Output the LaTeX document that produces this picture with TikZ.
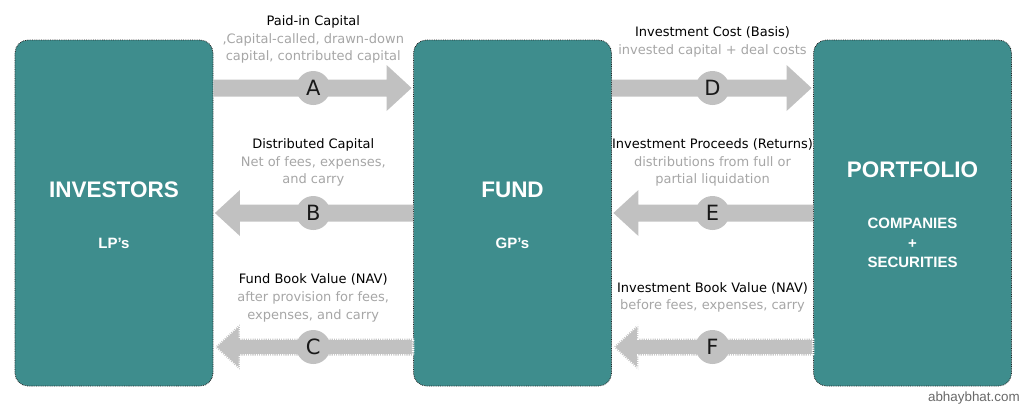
\documentclass[tikz,border=0pt]{standalone}
\usepackage{fontspec}
\setmainfont{DejaVu Sans}
\newfontfamily\boxfont{Liberation Sans}
\usetikzlibrary{calc}
\definecolor{fundteal}{RGB}{62,141,141}
\definecolor{bandgray}{RGB}{193,193,193}
\definecolor{notegray}{RGB}{166,166,166}
\definecolor{webgray}{RGB}{105,105,105}
\tikzset{
  party/.style    = {draw=black!85, densely dotted, line width=0.8bp, fill=fundteal,
                     rounded corners=13bp, minimum width=198bp, minimum height=346bp, inner sep=0pt},
  bigname/.style  = {text=white, inner sep=0pt, font=\boxfont\bfseries\fontsize{22.5bp}{27bp}\selectfont},
  subname/.style  = {text=white, align=center, inner sep=0pt,
                     font=\boxfont\bfseries\fontsize{15bp}{19.5bp}\selectfont},
  band/.style     = {fill=bandgray},
  roughband/.style= {fill=bandgray, draw=white, line width=2.6bp, dash pattern=on 1.1bp off 1.1bp},
  stamp/.style    = {circle, fill=bandgray, minimum size=34bp, inner sep=0pt, text=black!90,
                     font=\fontsize{21bp}{21bp}\selectfont},
  flowtext/.style = {align=center, text=notegray, inner sep=0pt,
                     font=\fontsize{13bp}{17.8bp}\selectfont},
  credit/.style   = {text=webgray, inner sep=0pt, font=\boxfont\fontsize{13.4bp}{16bp}\selectfont},
}
% block arrow from tail (#2) to tip (#3), drawn level with the tail
\newcommand{\bandarrow}[3][band]{%
  \path[#1] let \p1=(#2), \p2=(#3), \n1={sign(\x2-\x1)} in
    ({\x1},{\y1+8.5bp}) -- ({\x2-(\n1)*26.5bp},{\y1+8.5bp}) -- ({\x2-(\n1)*26.5bp},{\y1+23bp})
    -- ({\x2-(\n1)*1.5bp},{\y1}) -- ({\x2-(\n1)*26.5bp},{\y1-23bp}) -- ({\x2-(\n1)*26.5bp},{\y1-8.5bp})
    -- ({\x1},{\y1-8.5bp}) -- cycle;
}

\begin{document}
\begin{tikzpicture}[x=1bp, y=-1bp]
\useasboundingbox (0,0) rectangle (1024,418);

% the three parties
\node[party] (inv)  at (114,213)   {};
\node[party] (fund) at (512.5,213) {};
\node[party] (port) at (912.5,213) {};

\node[bigname] (invT)  at ([yshift=23bp]inv.center)  {INVESTORS};
\node[subname] (invS)  at ([yshift=-30bp]inv.center) {LP’s};
\node[bigname] (fundT) at ([yshift=23bp]fund.center) {FUND};
\node[subname] (fundS) at ([yshift=-30bp]fund.center) {GP’s};
\node[bigname] (portT) at ([yshift=43bp]port.center) {PORTFOLIO};
\node[subname] (portS) at ([yshift=-30bp]port.center) {COMPANIES\\+\\SECURITIES};

% rows of the flows
\coordinate (rowA) at (0,88);
\coordinate (rowB) at (0,213);
\coordinate (rowC) at (0,347);

\bandarrow{inv.east |- rowA}{fund.west |- rowA}
\bandarrow{fund.west |- rowB}{inv.east |- rowB}
\bandarrow[roughband]{fund.west |- rowC}{inv.east |- rowC}
\bandarrow{fund.east |- rowA}{port.west |- rowA}
\bandarrow{port.west |- rowB}{fund.east |- rowB}
\bandarrow[roughband]{port.west |- rowC}{fund.east |- rowC}

\node[stamp] (cA) at ($(inv.east |- rowA)!0.5!(fund.west |- rowA)$) {A};
\node[stamp] (cB) at ($(inv.east |- rowB)!0.5!(fund.west |- rowB)$) {B};
\node[stamp] (cC) at ($(inv.east |- rowC)!0.5!(fund.west |- rowC)$) {C};
\node[stamp] (cD) at ($(fund.east |- rowA)!0.5!(port.west |- rowA)$) {D};
\node[stamp] (cE) at ($(fund.east |- rowB)!0.5!(port.west |- rowB)$) {E};
\node[stamp] (cF) at ($(fund.east |- rowC)!0.5!(port.west |- rowC)$) {F};

% what each flow is
\node[flowtext] (tA) at (cA |- 0,39.5) {\textcolor{black}{Paid-in Capital}\\,Capital-called, drawn-down\\capital, contributed capital};
\node[flowtext] (tB) at (cB |- 0,162.5) {\textcolor{black}{Distributed Capital}\\Net of fees, expenses,\\and carry};
\node[flowtext] (tC) at (cC |- 0,298) {\textcolor{black}{Fund Book Value (NAV)}\\after provision for fees,\\expenses, and carry};
\node[flowtext] (tD) at (cD |- 0,42) {\textcolor{black}{Investment Cost (Basis)}\\invested capital + deal costs};
\node[flowtext] (tE) at (cE |- 0,162.5) {\textcolor{black}{Investment Proceeds (Returns)}\\distributions from full or\\partial liquidation};
\node[flowtext] (tF) at (cF |- 0,297.5) {\textcolor{black}{Investment Book Value (NAV)}\\before fees, expenses, carry};

\node[credit, anchor=east] (web) at ([xshift=8bp]port.east |- 0,398) {abhaybhat.com};

\end{tikzpicture}
\end{document}
